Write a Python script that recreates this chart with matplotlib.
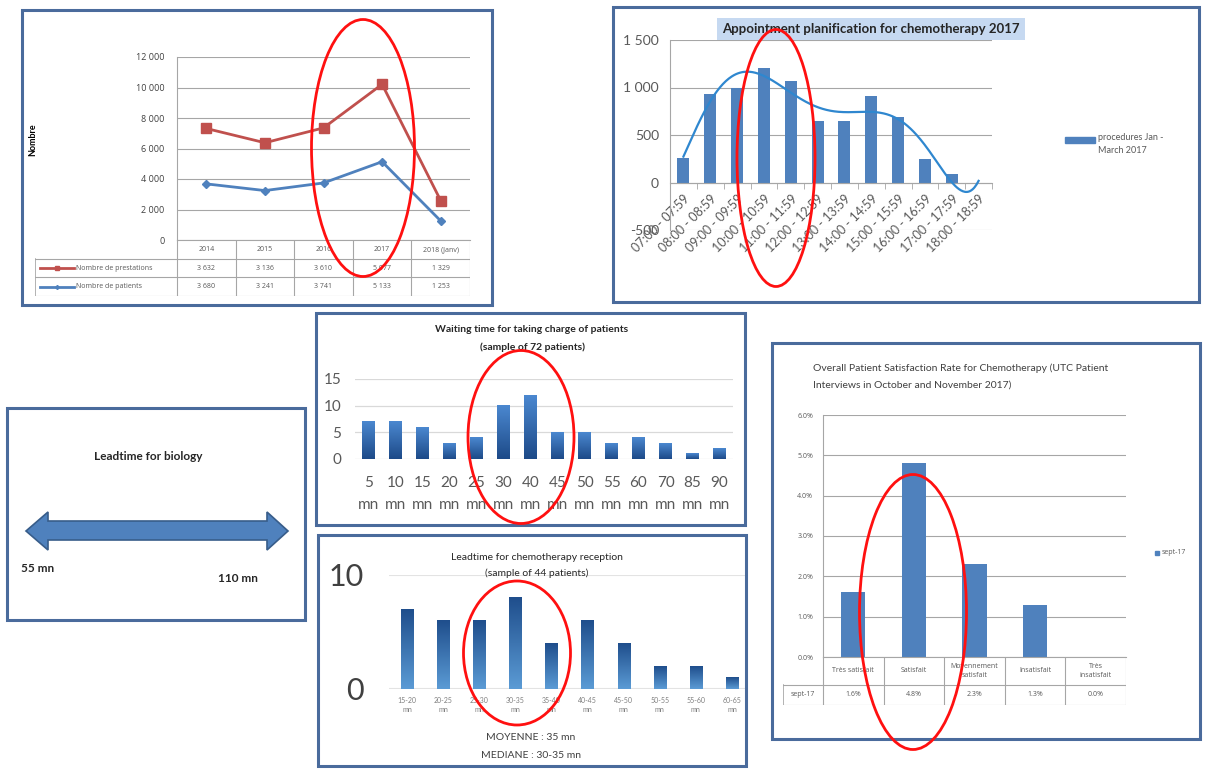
import numpy as np
import matplotlib
matplotlib.use('Agg')
import matplotlib.pyplot as plt
from matplotlib.patches import Rectangle, Ellipse, Polygon
from matplotlib.colors import LinearSegmentedColormap
from matplotlib.ticker import FuncFormatter

W, H = 1208, 775
plt.rcParams['font.family'] = ['Lato', 'DejaVu Sans']
SMALL = ['Open Sans', 'DejaVu Sans']

# --- data ---
years = ['2014', '2015', '2016', '2017', '2018 (Janv)']
prestations = [3632, 3136, 3610, 5077, 1329]
patients = [3680, 3241, 3741, 5133, 1253]

slots = ['07:00 - 07:59', '08:00 - 08:59', '09:00 - 09:59', '10:00 - 10:59',
         '11:00 - 11:59', '12:00 - 12:59', '13:00 - 13:59', '14:00 - 14:59',
         '15:00 - 15:59', '16:00 - 16:59', '17:00 - 17:59', '18:00 - 18:59']
procedures = [260, 930, 990, 1210, 1070, 650, 650, 910, 690, 250, 90, 0]

wait_labels = ['5', '10', '15', '20', '25', '30', '40', '45', '50', '55', '60', '70', '85', '90']
wait_counts = [7, 7, 6, 3, 4, 10, 12, 5, 5, 3, 4, 3, 1, 2]

lead_labels = ['15-20', '20-25', '25-30', '30-35', '35-40', '40-45', '45-50', '50-55', '55-60', '60-65']
lead_counts = [7, 6, 6, 8, 4, 6, 4, 2, 2, 1]

satisf_labels = ['Très satisfait', 'Satisfait', 'Moyennement\nsatisfait', 'Insatisfait', 'Très\ninsatisfait']
satisf_rates = [1.6, 4.8, 2.3, 1.3, 0.0]

BLUE = '#4f81bd'
RED = '#c0504d'
GRID = '#a6a6a6'
TXT = '#595959'

fig = plt.figure(figsize=(W / 100, H / 100), dpi=100)


def add_ax(x0, y0, x1, y1, **kw):
    return fig.add_axes([x0 / W, 1 - y1 / H, (x1 - x0) / W, (y1 - y0) / H], **kw)


def ftext(x, y, s, **kw):
    fig.text(x / W, 1 - y / H, s, **kw)


def space_fmt(v, p=None):
    return f'{int(round(v)):,}'.replace(',', ' ')


def grad_bars(ax, xs, hs, width, top, bottom):
    cmap = LinearSegmentedColormap.from_list('g', [bottom, top])
    grad = np.linspace(0, 1, 128).reshape(-1, 1)
    for x, h in zip(xs, hs):
        ax.imshow(grad, extent=(x - width / 2, x + width / 2, 0, h), origin='lower',
                  cmap=cmap, aspect='auto', zorder=2)


# --- panel 1 : prestations / patients ---
ax1 = add_ax(177, 57, 470, 240)
x1 = np.arange(len(years))
total = np.array(prestations) + np.array(patients)
ax1.plot(x1, total, color=RED, lw=2, marker='s', ms=6.5, zorder=3)
ax1.plot(x1, patients, color=BLUE, lw=2, marker='D', ms=4, zorder=3)
ax1.set_xlim(-0.5, 4.5)
ax1.set_ylim(0, 12000)
ax1.set_yticks(range(0, 12001, 2000))
ax1.yaxis.set_major_formatter(FuncFormatter(space_fmt))
ax1.set_xticks([])
ax1.grid(axis='y', color=GRID, lw=0.8)
ax1.set_axisbelow(True)
for s in ['top', 'right']:
    ax1.spines[s].set_visible(False)
for s in ['left', 'bottom']:
    ax1.spines[s].set_color(GRID)
ax1.tick_params(axis='y', length=0, labelsize=6.5, labelcolor='#404040', pad=9)
for t in ax1.get_yticklabels():
    t.set_family(SMALL)
ftext(33, 140, 'Nombre', rotation=90, fontsize=6.5, fontweight='bold', ha='center', va='center')

tab1 = add_ax(35, 240, 470, 296)
tab1.set_xlim(-2.923, 4.5)
tab1.set_ylim(3, 0)
tab1.axis('off')
for k in range(6):
    tab1.plot([k - 0.5, k - 0.5], [0, 3], color=GRID, lw=0.8)
tab1.plot([-2.923, -2.923], [1, 3], color=GRID, lw=1.2)
for yy in [1, 2, 3]:
    tab1.plot([-2.923, 4.5], [yy, yy], color=GRID, lw=0.8)
for i, yr in enumerate(years):
    tab1.text(i, 0.5, yr, ha='center', va='center', fontsize=5, color=TXT, family=SMALL)
    tab1.text(i, 1.5, space_fmt(prestations[i]), ha='center', va='center', fontsize=5,
              color=TXT, family=SMALL)
    tab1.text(i, 2.5, space_fmt(patients[i]), ha='center', va='center', fontsize=5,
              color=TXT, family=SMALL)
tab1.plot([-2.84, -2.25], [1.5, 1.5], color=RED, lw=2)
tab1.plot([-2.545], [1.5], color=RED, marker='s', ms=2.5)
tab1.plot([-2.84, -2.25], [2.5, 2.5], color=BLUE, lw=2)
tab1.plot([-2.545], [2.5], color=BLUE, marker='D', ms=2)
tab1.text(-2.22, 1.5, 'Nombre de prestations', va='center', fontsize=5, color=TXT, family=SMALL)
tab1.text(-2.22, 2.5, 'Nombre de patients', va='center', fontsize=5, color=TXT, family=SMALL)

# --- panel 2 : appointments per hour ---
ax2 = add_ax(670, 40, 992, 230)
x2 = np.arange(len(slots))
ax2.bar(x2, procedures, width=0.45, color=BLUE, zorder=2)
coef = np.polyfit(x2, procedures, 6)
xx = np.linspace(0, 11, 300)
ax2.plot(xx, np.polyval(coef, xx), color='#2f87cf', lw=1.6, zorder=3)
ax2.set_xlim(-0.5, 11.5)
ax2.set_ylim(-500, 1500)
ax2.set_yticks(range(-500, 1501, 500))
ax2.yaxis.set_major_formatter(FuncFormatter(space_fmt))
ax2.grid(axis='y', color=GRID, lw=0.8)
ax2.set_axisbelow(True)
ax2.spines['bottom'].set_position(('data', 0))
for s in ['top', 'right']:
    ax2.spines[s].set_visible(False)
for s in ['left', 'bottom']:
    ax2.spines[s].set_color(GRID)
ax2.set_xticks(x2)
ax2.set_xticklabels(slots, rotation=45, ha='right', rotation_mode='anchor', fontsize=9, color=TXT)
ax2.set_xticks(np.arange(-0.5, 12, 1), minor=True)
ax2.tick_params(axis='x', which='major', length=0, pad=7)
ax2.tick_params(axis='x', which='minor', length=4, color=GRID)
ax2.tick_params(axis='y', length=0, labelsize=10, labelcolor=TXT, pad=8)
ftext(871, 29, 'Appointment planification for chemotherapy 2017', ha='center', va='center',
      fontsize=9.5, fontweight='bold', color='#262626',
      bbox=dict(facecolor='#c6d9f1', edgecolor='none', pad=3.5))

# --- panel 3 : waiting time ---
ax3 = add_ax(355, 379, 733, 459)
x3 = np.arange(len(wait_labels))
grad_bars(ax3, x3, wait_counts, 0.47, '#4b88d0', '#1d4a88')
ax3.set_xlim(-0.5, 13.5)
ax3.set_ylim(0, 15)
ax3.set_yticks([0, 5, 10, 15])
ax3.grid(axis='y', color='#d9d9d9', lw=0.9)
ax3.set_axisbelow(True)
for s in ax3.spines.values():
    s.set_visible(False)
ax3.set_xticks(x3)
ax3.set_xticklabels([f'{l}\nmn' for l in wait_labels], fontsize=11, color=TXT, linespacing=1.75)
ax3.tick_params(axis='x', length=0, pad=12)
ax3.tick_params(axis='y', length=0, labelsize=11, labelcolor=TXT, pad=10)
ftext(532, 330, 'Waiting time for taking charge of patients', ha='center', va='center',
      fontsize=7.5, fontweight='bold', color='#262626')
ftext(532, 347, '(sample of 72 patients)', ha='center', va='center',
      fontsize=7.5, fontweight='bold', color='#262626')

# --- panel 4 : leadtime chemotherapy reception ---
ax4 = add_ax(389, 575, 745, 689)
x4 = np.arange(len(lead_labels))
grad_bars(ax4, x4, lead_counts, 0.34, '#1f4e8c', '#5b9bd5')
ax4.set_xlim(-0.5, 9.36)
ax4.set_ylim(0, 10)
ax4.set_yticks([0, 10])
ax4.grid(axis='y', color='#e3e3e3', lw=1.5)
ax4.set_axisbelow(True)
for s in ax4.spines.values():
    s.set_visible(False)
ax4.set_xticks(x4)
ax4.set_xticklabels([f'{l}\nmn' for l in lead_labels], fontsize=5, color='#7f7f7f')
ax4.tick_params(axis='x', length=0, pad=6)
ax4.tick_params(axis='y', length=0, labelsize=22, labelcolor='#404040', pad=18)
ftext(537, 557, 'Leadtime for chemotherapy reception', ha='center', va='center',
      fontsize=7.5, color='#262626')
ftext(537, 573, '(sample of 44 patients)', ha='center', va='center',
      fontsize=7.5, color='#262626')
ftext(531, 738, 'MOYENNE : 35 mn', ha='center', va='center', fontsize=7.5, color='#404040')
ftext(531, 756, 'MEDIANE : 30-35 mn', ha='center', va='center', fontsize=7.5, color='#404040')

# --- panel 5 : satisfaction ---
ax5 = add_ax(823, 415, 1126, 657)
x5 = np.arange(len(satisf_labels))
ax5.bar(x5, satisf_rates, width=0.4, color=BLUE, zorder=2)
ax5.set_xlim(-0.5, 4.5)
ax5.set_ylim(0, 6)
ax5.set_yticks(range(7))
ax5.yaxis.set_major_formatter(FuncFormatter(lambda v, p: f'{v:.1f}%'))
ax5.grid(axis='y', color=GRID, lw=0.8)
ax5.set_axisbelow(True)
ax5.set_xticks([])
for s in ['top', 'right']:
    ax5.spines[s].set_visible(False)
for s in ['left', 'bottom']:
    ax5.spines[s].set_color(GRID)
ax5.tick_params(axis='y', length=0, labelsize=5, labelcolor=TXT, pad=7)
for t in ax5.get_yticklabels():
    t.set_family(SMALL)

tab5 = add_ax(783, 657, 1126, 705)
tab5.set_xlim(-1.16, 4.5)
tab5.set_ylim(48, 0)
tab5.axis('off')
for k in range(6):
    tab5.plot([k - 0.5, k - 0.5], [0, 48], color=GRID, lw=0.8)
tab5.plot([-1.16, -1.16], [28, 48], color=GRID, lw=1.2)
for yy in [28, 48]:
    tab5.plot([-1.16, 4.5], [yy, yy], color=GRID, lw=0.8)
for i, lab in enumerate(satisf_labels):
    tab5.text(i, 14, lab, ha='center', va='center', fontsize=5, color=TXT, linespacing=1.3,
              family=SMALL)
    tab5.text(i, 38, f'{satisf_rates[i]:.1f}%', ha='center', va='center', fontsize=5, color=TXT,
              family=SMALL)
tab5.text(-0.83, 38, 'sept-17', ha='center', va='center', fontsize=5, color=TXT, family=SMALL)
ftext(813, 368, 'Overall Patient Satisfaction Rate for Chemotherapy (UTC Patient',
      ha='left', va='center', fontsize=7.5, color='#404040')
ftext(813, 385, 'Interviews in October and November 2017)',
      ha='left', va='center', fontsize=7.5, color='#404040')
ftext(1162, 553, 'sept-17', ha='left', va='center', fontsize=5, color=TXT, family=SMALL)

# --- overlay : frames, legend marks, arrow, ellipses ---
ov = fig.add_axes([0, 0, 1, 1], zorder=10)
ov.set_xlim(0, W)
ov.set_ylim(H, 0)
ov.axis('off')
ov.patch.set_alpha(0)

frames = [(22, 10, 492, 305), (613, 7, 1199, 302), (316, 313, 745, 525),
          (318, 535, 746, 766), (772, 343, 1200, 739), (7, 408, 305, 620)]
for x0, y0, x1, y1 in frames:
    ov.add_patch(Rectangle((x0, y0), x1 - x0, y1 - y0, fill=False, edgecolor='#4a6b9c', lw=2.2))

# legend of panel 2
ov.add_patch(Rectangle((1065, 137), 30, 6, color=BLUE))
ov.text(1098, 133, 'procedures Jan -\nMarch 2017', ha='left', va='top', fontsize=6.5,
        color=TXT, linespacing=1.6)
# legend of panel 5
ov.add_patch(Rectangle((1155, 551), 4, 4, color=BLUE))

# biology panel
ov.text(148, 456, 'Leadtime for biology', ha='center', va='center', fontsize=8.5, fontweight='bold',
        color='#262626')
arrow = [(26, 531), (48, 512), (48, 521), (267, 521), (267, 512), (288, 531),
         (267, 550), (267, 540), (48, 540), (48, 550)]
ov.add_patch(Polygon(arrow, closed=True, facecolor=BLUE, edgecolor='#385d8a', lw=1.2))
ov.text(21, 569, '55 mn', ha='left', va='center', fontsize=8.5, fontweight='bold', color='#262626')
ov.text(218, 578, '110 mn', ha='left', va='center', fontsize=8.5, fontweight='bold', color='#262626')

ellipses = [(363, 148, 103, 257), (776, 158, 78, 257), (521, 437, 106, 173),
            (517, 653, 107, 144), (913, 612, 107, 275)]
for cx, cy, w, h in ellipses:
    ov.add_patch(Ellipse((cx, cy), w, h, fill=False, edgecolor='#ff1010', lw=2))

fig.savefig('out.png', dpi=100)
